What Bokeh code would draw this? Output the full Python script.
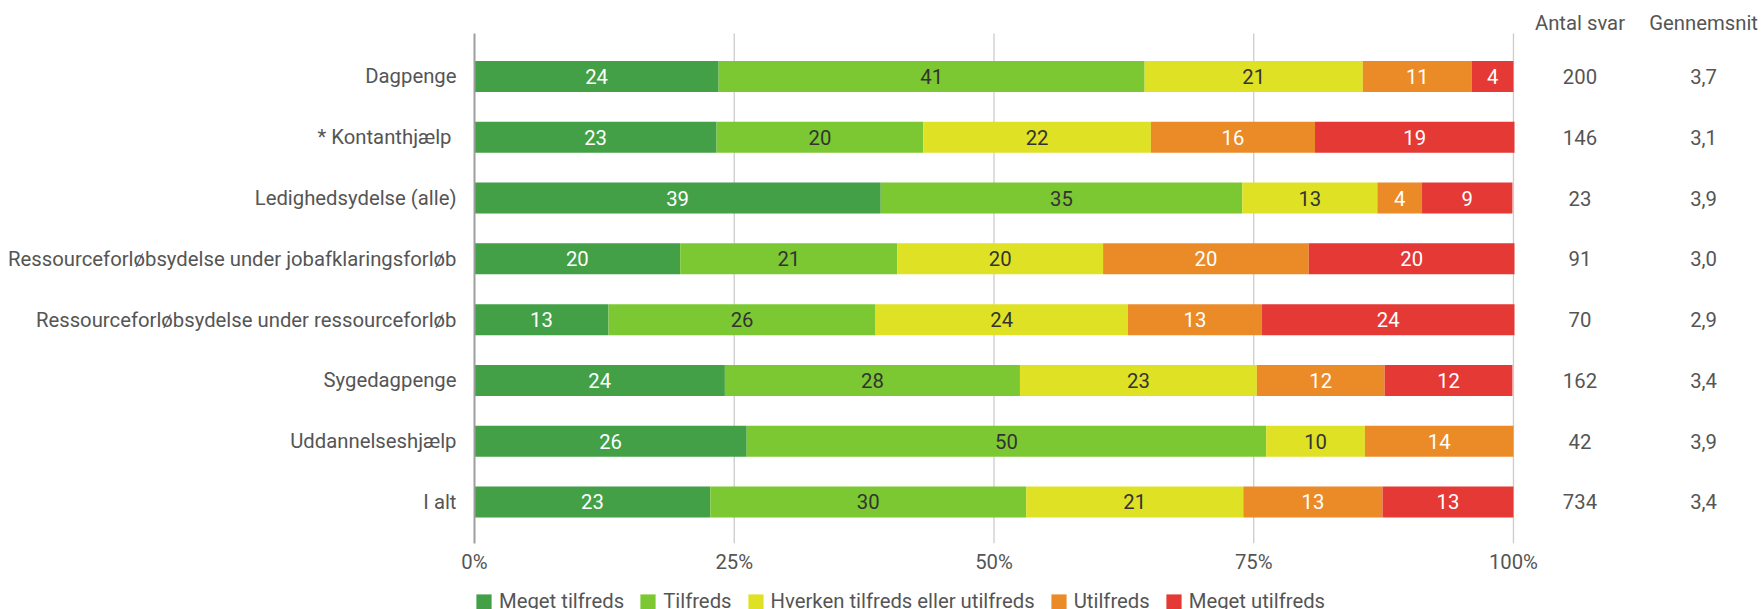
from bokeh.plotting import figure
from bokeh.layouts import column
from bokeh.models import (Range1d, FixedTicker, ColumnDataSource, Legend, LegendItem)
from bokeh.embed import file_html
from bokeh.resources import INLINE
from bokeh.core.properties import value

# ---------------- data ----------------
categories = ["Dagpenge", "Kontanthjælp", "Ledighedsydelse (alle)",
              "Ressourceforløbsydelse under jobafklaringsforløb",
              "Ressourceforløbsydelse under ressourceforløb",
              "Sygedagpenge", "Uddannelseshjælp", "I alt"]
series = ["Meget tilfreds", "Tilfreds", "Hverken tilfreds eller utilfreds",
          "Utilfreds", "Meget utilfreds"]
meget_tilfreds = [23.5, 23.3, 39.1, 19.8, 12.9, 24.1, 26.2, 22.7]
tilfreds = [41.0, 19.9, 34.8, 20.9, 25.7, 28.4, 50.0, 30.4]
hverken = [21.0, 21.9, 13.0, 19.8, 24.3, 22.8, 9.5, 20.9]
utilfreds = [10.5, 15.8, 4.3, 19.8, 12.9, 12.3, 14.3, 13.4]
meget_utilfreds = [4.0, 19.2, 8.7, 19.8, 24.3, 12.3, 0.0, 12.6]
antal_svar = [200, 146, 23, 91, 70, 162, 42, 734]
gennemsnit = ["3,7", "3,1", "3,9", "3,0", "2,9", "3,4", "3,9", "3,4"]
x_ticks = [0, 25, 50, 75, 100]
x_tick_labels = ["0%", "25%", "50%", "75%", "100%"]
col_headers = ["Antal svar", "Gennemsnit"]
starred = ["Kontanthjælp"]

# ---------------- style ----------------
colors = ["#43a047", "#7bc832", "#dfe125", "#ea8b28", "#e53935"]
label_colors = ["#ffffff", "#333333", "#333333", "#ffffff", "#ffffff"]
FONT = "Roboto"
FS = "20.3px"
TXT = "#555555"

keys = ["s0", "s1", "s2", "s3", "s4"]
vals = [meget_tilfreds, tilfreds, hverken, utilfreds, meget_utilfreds]
ypos = list(range(len(categories)))
src = ColumnDataSource(dict(y=ypos, **{k: v for k, v in zip(keys, vals)}))

Y_TOP, Y_BOT = -0.707, 7.683   # extent of the plot body (gridlines / axis)

p = figure(width=1762, height=589,
           x_range=Range1d(0, 123.97), y_range=Range1d(Y_BOT, -1.25),
           output_backend="svg", toolbar_location=None,
           min_border_left=474, min_border_right=0,
           min_border_top=0, min_border_bottom=46)
p.outline_line_color = None

# gridlines (behind bars)
gx = x_ticks[1:]
p.segment(x0=gx, x1=gx, y0=[Y_TOP] * len(gx), y1=[Y_BOT] * len(gx),
          line_color="#cccccc", line_width=1.3)

rs = p.hbar_stack(keys, y="y", height=0.51, color=colors, line_color=None,
                  source=src)

# segment labels
lx, ly, lt, lc = [], [], [], []
for i in range(len(categories)):
    cum = 0.0
    for s in range(len(keys)):
        v = vals[s][i]
        if v > 0:
            lx.append(cum + v / 2)
            ly.append(i)
            lt.append(str(int(v + 0.5)))
            lc.append(label_colors[s])
        cum += v
p.text(x=lx, y=ly, text=lt, text_color=lc, text_align="center",
       text_baseline="middle", text_font=value(FONT), text_font_size=FS)

# right-hand columns
col_x = [106.4, 118.3]
cs = ColumnDataSource(dict(
    x=[col_x[0]] * len(categories) + [col_x[1]] * len(categories) + col_x,
    y=ypos + ypos + [-0.872, -0.872],
    t=[str(a) for a in antal_svar] + gennemsnit + col_headers))
p.text(x="x", y="y", text="t", source=cs, text_align="center",
       text_baseline="middle", text_font=value(FONT),
       text_font_size=FS, text_color=TXT)

# axes
p.xaxis.ticker = FixedTicker(ticks=x_ticks)
p.xaxis.major_label_overrides = {t: l for t, l in zip(x_ticks, x_tick_labels)}
p.xaxis.axis_line_color = None
p.xaxis.major_tick_line_color = None
p.xaxis.minor_tick_line_color = None
p.xaxis.major_tick_out = 0
p.xaxis.major_tick_in = 0
p.xaxis.minor_tick_out = 0
p.xaxis.minor_tick_in = 0
p.xaxis.major_label_standoff = 6
p.xaxis.major_label_text_font = FONT
p.xaxis.major_label_text_font_size = FS
p.xaxis.major_label_text_color = TXT

p.yaxis.ticker = FixedTicker(ticks=ypos)
p.yaxis.major_label_overrides = {
    i: ("*  " + c if c in starred else c) for i, c in zip(ypos, categories)}
p.yaxis.bounds = (Y_TOP, Y_BOT)
p.yaxis.axis_line_color = "#9e9e9e"
p.yaxis.axis_line_width = 2
p.yaxis.major_tick_line_color = None
p.yaxis.minor_tick_line_color = None
p.yaxis.major_tick_out = 0
p.yaxis.major_tick_in = 0
p.yaxis.minor_tick_out = 0
p.yaxis.minor_tick_in = 0
p.yaxis.major_label_standoff = 18
p.yaxis.major_label_text_font = FONT
p.yaxis.major_label_text_font_size = FS
p.yaxis.major_label_text_color = TXT

p.xgrid.grid_line_color = None
p.ygrid.grid_line_color = None

# legend strip (separate small figure below the chart); its swatch renderers
# hold one zero-size bar so that nothing is drawn in the strip itself
lg = figure(width=1762, height=20, x_range=Range1d(0, 1), y_range=Range1d(0, 1),
            output_backend="svg", toolbar_location=None,
            x_axis_location=None, y_axis_location=None,
            min_border_left=474, min_border_right=0,
            min_border_top=0, min_border_bottom=0)
lg.outline_line_color = None
lg.xgrid.grid_line_color = None
lg.ygrid.grid_line_color = None
lrs = [lg.hbar(y=[0.5], left=[0], right=[0], height=0, fill_color=c, line_color=None)
       for c in colors]
legend = Legend(items=[LegendItem(label=n, renderers=[r]) for n, r in zip(series, lrs)],
                orientation="horizontal", location="top_left",
                glyph_width=19, glyph_height=19, label_height=19,
                label_standoff=6, spacing=14, padding=0, margin=0,
                border_line_color=None, background_fill_alpha=0,
                label_text_font=FONT, label_text_font_size=FS,
                label_text_color=TXT)
lg.add_layout(legend, "center")

open("out.html", "w").write(file_html(column(p, lg), INLINE))
